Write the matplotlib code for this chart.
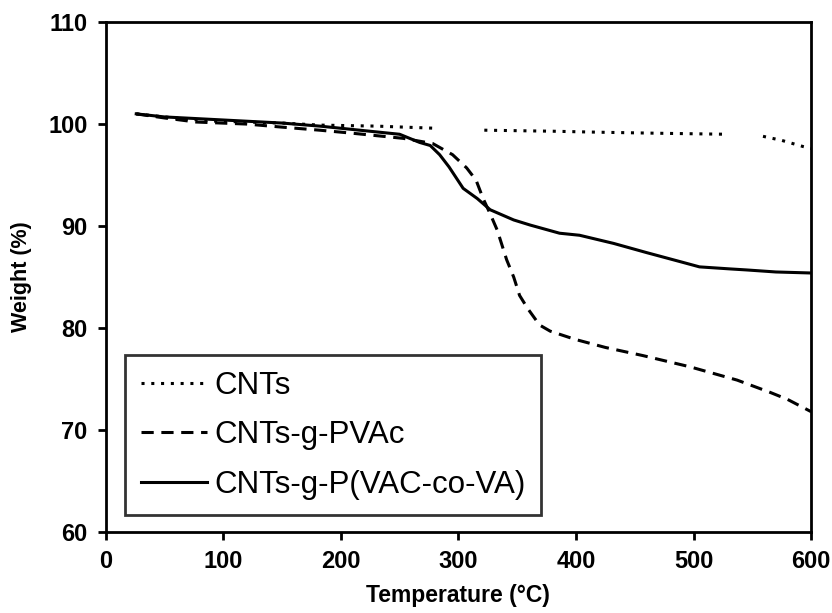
import numpy as np
import matplotlib.pyplot as plt

# CNTs (gaps where the trace is missing)
t_cnt = [26, 50, 89, 150, 182, 230, 278, np.nan, 322, 380, 420, 470, 529, np.nan, 559, 575, 593, 600]
w_cnt = [101.0, 100.7, 100.3, 100.1, 99.9, 99.8, 99.6, np.nan, 99.4, 99.3, 99.2, 99.1, 99.0, np.nan, 98.8, 98.4, 97.8, 97.6]

# CNTs-g-PVAc
t_pvac = [26, 50, 77, 120, 150, 182, 210, 253, 278, 295, 307, 315, 321, 327, 333, 341, 347, 352,
          359, 369, 378, 399, 425, 457, 497, 537, 565, 580, 600]
w_pvac = [101.0, 100.6, 100.2, 100.0, 99.7, 99.4, 99.1, 98.6, 98.1, 97.0, 95.7, 94.5, 92.7, 91.2, 89.6, 86.7, 85.0, 83.2,
          81.9, 80.3, 79.7, 78.9, 78.1, 77.3, 76.2, 74.9, 73.7, 73.0, 71.8]

# CNTs-g-P(VAC-co-VA)
t_pva = [26, 50, 100, 150, 182, 233, 250, 267, 276, 284, 292, 304, 316, 327, 347, 361, 386, 403,
         432, 460, 489, 505, 531, 545, 570, 600]
w_pva = [101.0, 100.7, 100.4, 100.1, 99.8, 99.2, 99.0, 98.2, 97.9, 97.0, 95.8, 93.7, 92.7, 91.6, 90.6, 90.1, 89.3, 89.1,
         88.3, 87.4, 86.5, 86.0, 85.8, 85.7, 85.5, 85.4]

labels = ['CNTs', 'CNTs-g-PVAc', 'CNTs-g-P(VAC-co-VA)']

plt.rcParams['font.family'] = ['Liberation Sans', 'DejaVu Sans']

fig = plt.figure(figsize=(8.32, 6.13), dpi=100)
ax = fig.add_axes([0.127, 0.132, 0.848, 0.832])

ax.plot(t_cnt, w_cnt, color='black', lw=2.2, ls=(0, (1, 2.2)), label=labels[0])
ax.plot(t_pvac, w_pvac, color='black', lw=2.2, ls=(0, (4, 2.5)), label=labels[1])
ax.plot(t_pva, w_pva, color='black', lw=2.2, ls='-', label=labels[2])

ax.set_xlim(0, 600)
ax.set_ylim(60, 110)
ax.set_xticks(range(0, 601, 100))
ax.set_yticks(range(60, 111, 10))

for s in ax.spines.values():
    s.set_linewidth(2)
ax.tick_params(axis='both', direction='out', length=6, width=2, labelsize=17, pad=7)
ax.tick_params(top=False, right=False)
for lab in ax.get_xticklabels() + ax.get_yticklabels():
    lab.set_fontweight('bold')

ax.set_xlabel('Temperature (\u00b0C)', fontsize=16.5, fontweight='bold', labelpad=8)
ax.set_ylabel('Weight (%)', fontsize=15.5, fontweight='bold', labelpad=12)

leg = ax.legend(loc='lower left', bbox_to_anchor=(0.028, 0.033), fontsize=22.5, frameon=True,
                fancybox=False, edgecolor='black', handlelength=2.1, handletextpad=0.25,
                borderpad=0.5, labelspacing=0.62, borderaxespad=0)
leg.get_frame().set_linewidth(2)

fig.savefig('out.png', dpi=100)
